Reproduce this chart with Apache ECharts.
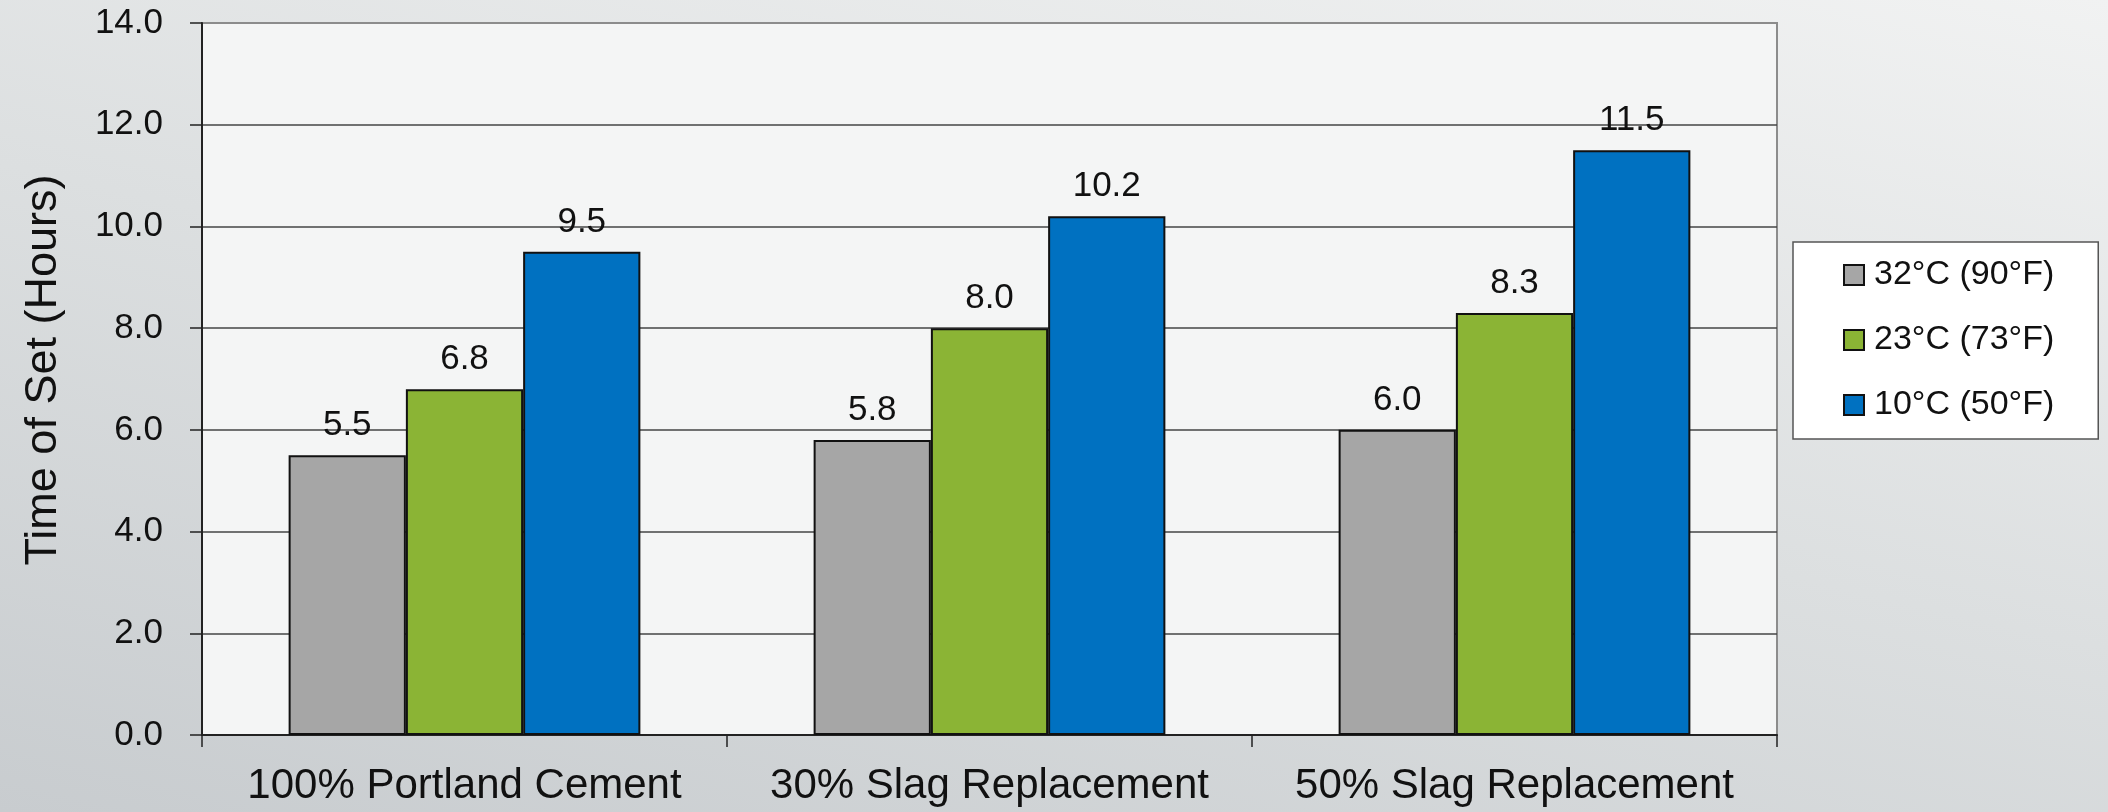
<!DOCTYPE html>
<html>
<head>
<meta charset="utf-8">
<title>Time of Set</title>
<script src="https://cdn.jsdelivr.net/npm/echarts@6/dist/echarts.min.js"></script>
<style>
  html, body { margin: 0; padding: 0; }
  #chart { width: 2108px; height: 812px; }
</style>
</head>
<body>
<div id="chart"></div>
<script>
// Mixes and set-time measurements (hours) at three curing temperatures
const categories = ['100% Portland Cement', '30% Slag Replacement', '50% Slag Replacement'];
const seriesNames = ['32°C (90°F)', '23°C (73°F)', '10°C (50°F)'];
const hot = [5.5, 5.8, 6.0];
const mild = [6.8, 8.0, 8.3];
const cool = [9.5, 10.2, 11.5];
const yTicks = [0, 2, 4, 6, 8, 10, 12, 14];

const FONT = '"Liberation Sans", Arial, Helvetica, sans-serif';
const barColors = ['#A6A6A6', '#8BB435', '#0071C1'];
const seriesData = [hot, mild, cool];

const chart = echarts.init(document.getElementById('chart'), null, { renderer: 'canvas' });

const series = seriesData.map((values, i) => ({
  name: seriesNames[i],
  type: 'bar',
  data: values,
  barGap: '0%',
  barCategoryGap: '33%',
  itemStyle: { color: barColors[i], borderColor: '#111', borderWidth: 2 },
  label: {
    show: true,
    position: 'top',
    distance: 12,
    formatter: p => p.value.toFixed(1),
    fontFamily: FONT,
    fontSize: 35,
    color: '#111'
  }
}));

chart.setOption({
  // soft grey page wash: darker toward the lower left, lighter toward the upper right
  backgroundColor: {
    type: 'linear', global: true, x: 0, y: 812, x2: 284, y2: -421,
    colorStops: [
      { offset: 0, color: '#C8CCCF' },
      { offset: 0.5, color: '#DCDFE0' },
      { offset: 1, color: '#F1F2F2' }
    ]
  },
  animation: false,
  textStyle: { fontFamily: FONT },
  grid: {
    left: 202, right: 331, top: 23, bottom: 77,
    show: true,
    backgroundColor: '#F4F5F5',
    borderColor: '#8C8C8C',
    borderWidth: 2
  },
  legend: {
    orient: 'vertical',
    left: 1793,
    top: 242,
    padding: [16, 44, 17, 50],
    itemGap: 31,
    itemWidth: 20,
    itemHeight: 20,
    backgroundColor: '#FFFFFF',
    borderColor: '#555',
    borderWidth: 1.5,
    borderRadius: 0,
    icon: 'rect',
    itemStyle: { borderColor: '#111', borderWidth: 2 },
    textStyle: { fontFamily: FONT, fontSize: 34, color: '#111', padding: [0, 0, 0, 5] },
    data: seriesNames
  },
  xAxis: {
    type: 'category',
    data: categories,
    axisLine: { show: true, lineStyle: { color: '#222', width: 2 } },
    axisTick: { show: true, length: 12, lineStyle: { color: '#222', width: 1.5 } },
    axisLabel: { interval: 0, fontFamily: FONT, fontSize: 42, color: '#111', margin: 30 }
  },
  yAxis: {
    type: 'value',
    min: yTicks[0],
    max: yTicks[yTicks.length - 1],
    interval: yTicks[1] - yTicks[0],
    name: 'Time of Set (Hours)',
    nameLocation: 'middle',
    nameRotate: 90,
    nameGap: 136,
    nameTextStyle: { fontFamily: FONT, fontSize: 45, color: '#111', padding: [0, 0, 0, 18] },
    axisLine: { show: true, lineStyle: { color: '#222', width: 2 } },
    axisTick: { show: true, length: 12, lineStyle: { color: '#222', width: 1.5 } },
    axisLabel: {
      fontFamily: FONT, fontSize: 35, color: '#111', margin: 39,
      formatter: v => v.toFixed(1)
    },
    splitLine: {
      show: true,
      lineStyle: {
        color: ['#444', '#444', '#444', '#444', '#444', '#444', '#444', '#8C8C8C'],
        width: 1.5
      }
    }
  },
  series: series
});
</script>
</body>
</html>
